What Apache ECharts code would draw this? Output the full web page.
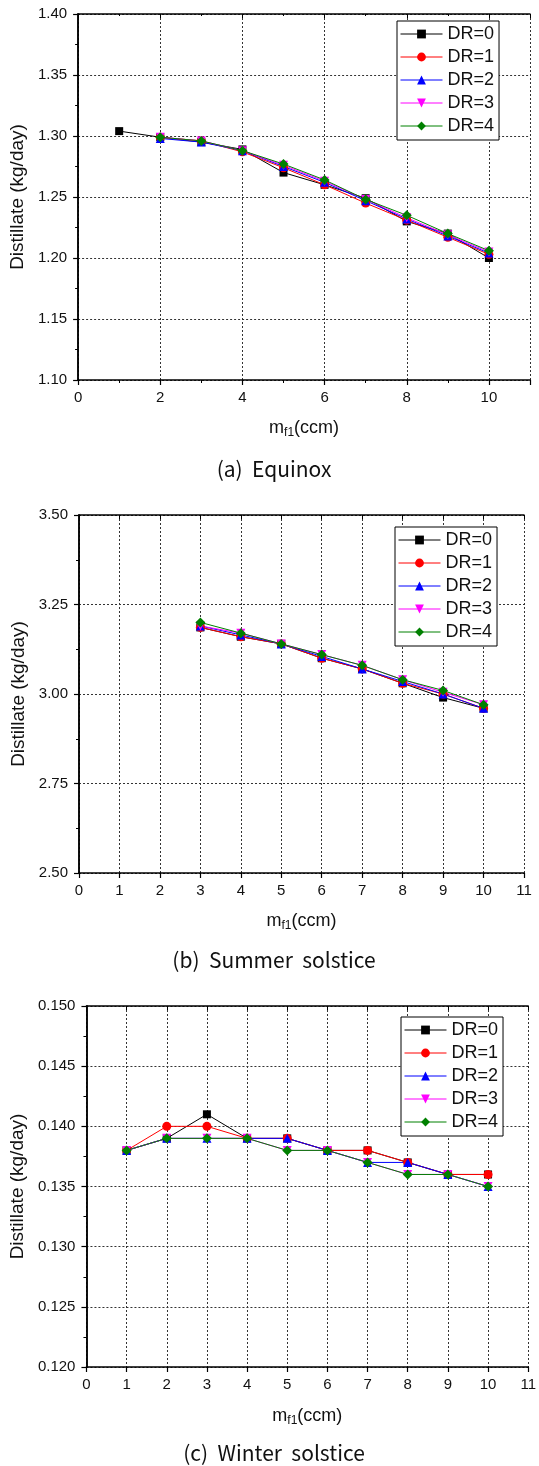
<!DOCTYPE html>
<html>
<head>
<meta charset="utf-8">
<script src="https://cdn.jsdelivr.net/npm/echarts@6/dist/echarts.min.js"></script>
<style>
  html, body { margin: 0; padding: 0; background: #fff; }
  #chart { width: 539px; height: 1466px; }
</style>
</head>
<body>
<div id="chart"></div>
<script>
// ---- data ----
var names = ['DR=0', 'DR=1', 'DR=2', 'DR=3', 'DR=4'];

// (a) Equinox
var eqX0 = [1, 2, 3, 4, 5, 6, 7, 8, 9, 10];
var eqX = [2, 3, 4, 5, 6, 7, 8, 9, 10];
var eqDR0 = [1.304, 1.299, 1.295, 1.289, 1.270, 1.260, 1.249, 1.230, 1.220, 1.200];
var eqDR1 = [1.299, 1.296, 1.287, 1.274, 1.260, 1.245, 1.231, 1.217, 1.203];
var eqDR2 = [1.298, 1.295, 1.288, 1.275, 1.262, 1.247, 1.232, 1.218, 1.204];
var eqDR3 = [1.299, 1.296, 1.288, 1.276, 1.263, 1.248, 1.233, 1.219, 1.205];
var eqDR4 = [1.299, 1.296, 1.288, 1.277, 1.264, 1.248, 1.235, 1.220, 1.206];

// (b) Summer solstice
var suX = [3, 4, 5, 6, 7, 8, 9, 10];
var suDR0 = [3.186, 3.160, 3.140, 3.100, 3.070, 3.030, 2.990, 2.960];
var suDR1 = [3.186, 3.160, 3.140, 3.100, 3.070, 3.030, 3.000, 2.960];
var suDR2 = [3.190, 3.165, 3.140, 3.105, 3.070, 3.035, 3.000, 2.960];
var suDR3 = [3.190, 3.170, 3.140, 3.110, 3.080, 3.040, 3.005, 2.970];
var suDR4 = [3.200, 3.170, 3.140, 3.110, 3.080, 3.040, 3.010, 2.970];

// (c) Winter solstice
var wiX = [1, 2, 3, 4, 5, 6, 7, 8, 9, 10];
var wiDR0 = [0.138, 0.139, 0.141, 0.139, 0.139, 0.138, 0.138, 0.137, 0.136, 0.136];
var wiDR1 = [0.138, 0.140, 0.140, 0.139, 0.139, 0.138, 0.138, 0.137, 0.136, 0.136];
var wiDR2 = [0.138, 0.139, 0.139, 0.139, 0.139, 0.138, 0.137, 0.137, 0.136, 0.135];
var wiDR3 = [0.138, 0.139, 0.139, 0.139, 0.138, 0.138, 0.137, 0.136, 0.136, 0.135];
var wiDR4 = [0.138, 0.139, 0.139, 0.139, 0.138, 0.138, 0.137, 0.136, 0.136, 0.135];

var captionTexts = ['(a)  Equinox', '(b)  Summer  solstice', '(c)  Winter  solstice'];

// ---- styles ----
var colors = ['#000000', '#ff0000', '#0000ff', '#ff00ff', '#008000'];
var symbols = ['rect', 'circle', 'triangle', 'triangle', 'diamond'];
var symRot = [0, 0, 0, 180, 0];
var symSize = [8, 9, 9, 9, 10];
var font = '"Liberation Sans", Arial, sans-serif';

var pairs = function (xs, ys) {
    var out = [];
    for (var i = 0; i < xs.length; i++) out.push([xs[i], ys[i]]);
    return out;
};

var grids = [
    { left: 75.5, top: 14, width: 454.5, height: 366 },
    { left: 79, top: 515, width: 445, height: 358 },
    { left: 81.5, top: 1006, width: 448.5, height: 361 }
];

var xCfg = [
    { min: 0, max: 11, interval: 2, minor: true, gap: 37 },
    { min: 0, max: 11, interval: 1, minor: false, gap: 37 },
    { min: 0, max: 11, interval: 1, minor: false, gap: 38 }
];
var yCfg = [
    { min: 1.10, max: 1.40, interval: 0.05, dec: 2, gap: 46 },
    { min: 2.50, max: 3.50, interval: 0.25, dec: 2, gap: 49 },
    { min: 0.120, max: 0.150, interval: 0.005, dec: 3, gap: 54 }
];

var axisLine = { show: true, lineStyle: { color: '#000', width: 1.5 } };
var gridLine = { show: true, lineStyle: { color: '#333', type: [2, 2], width: 1 } };

var xAxes = [], yAxes = [], series = [], legends = [], texts = [];

for (var g = 0; g < 3; g++) {
    var xc = xCfg[g], yc = yCfg[g];
    // bottom
    xAxes.push({
        type: 'value', gridIndex: g, position: 'bottom',
        min: xc.min, max: xc.max, interval: xc.interval,
        axisLine: axisLine,
        axisTick: { show: true, inside: false, length: 5, lineStyle: { color: '#000', width: 1.2 } },
        minorTick: { show: xc.minor, splitNumber: 2, length: 3, lineStyle: { color: '#000' } },
        axisLabel: {
            color: '#111', fontFamily: font, fontSize: 15, margin: 10,
            formatter: (function (mx, iv) {
                return function (v) { return (v === mx && iv === 2) ? '' : String(v); };
            })(xc.max, xc.interval)
        },
        splitLine: gridLine,
        name: '{m|m}{s|f1}{m|(ccm)}',
        nameLocation: 'middle', nameGap: xc.gap,
        nameTextStyle: {
            rich: {
                m: { fontFamily: font, fontSize: 18, color: '#111' },
                s: { fontFamily: font, fontSize: 12, color: '#111', padding: [10, 0, 0, 0] }
            }
        }
    });
    // top (border)
    xAxes.push({
        type: 'value', gridIndex: g, position: 'top',
        min: xc.min, max: xc.max, interval: xc.interval,
        axisLine: axisLine,
        axisTick: { show: true, inside: true, length: 4, lineStyle: { color: '#000' } },
        minorTick: { show: xc.minor, splitNumber: 2, length: 2, lineStyle: { color: '#000' } },
        axisLabel: { show: false }, splitLine: { show: false }
    });
    // left
    yAxes.push({
        type: 'value', gridIndex: g, position: 'left',
        min: yc.min, max: yc.max, interval: yc.interval,
        axisLine: axisLine,
        axisTick: { show: true, inside: false, length: 5, lineStyle: { color: '#000', width: 1.2 } },
        minorTick: { show: true, splitNumber: 2, length: 3, lineStyle: { color: '#000' } },
        axisLabel: {
            color: '#111', fontFamily: font, fontSize: 15, margin: 11,
            formatter: (function (d) { return function (v) { return v.toFixed(d); }; })(yc.dec)
        },
        splitLine: gridLine,
        name: 'Distillate (kg/day)',
        nameLocation: 'middle', nameRotate: 90,
        nameGap: yc.gap,
        nameTextStyle: { fontFamily: font, fontSize: 19, color: '#111' }
    });
    // right (border)
    yAxes.push({
        type: 'value', gridIndex: g, position: 'right',
        min: yc.min, max: yc.max, interval: yc.interval,
        axisLine: axisLine,
        axisTick: { show: true, inside: true, length: 4, lineStyle: { color: '#000' } },
        minorTick: { show: true, splitNumber: 2, length: 2, lineStyle: { color: '#000' } },
        axisLabel: { show: false }, splitLine: { show: false }
    });
}

var panelData = [
    [[eqX0, eqDR0], [eqX, eqDR1], [eqX, eqDR2], [eqX, eqDR3], [eqX, eqDR4]],
    [[suX, suDR0], [suX, suDR1], [suX, suDR2], [suX, suDR3], [suX, suDR4]],
    [[wiX, wiDR0], [wiX, wiDR1], [wiX, wiDR2], [wiX, wiDR3], [wiX, wiDR4]]
];

for (var p = 0; p < 3; p++) {
    for (var s = 0; s < 5; s++) {
        series.push({
            name: names[s],
            type: 'line',
            xAxisIndex: p * 2,
            yAxisIndex: p * 2,
            data: pairs(panelData[p][s][0], panelData[p][s][1]),
            symbol: symbols[s],
            symbolRotate: symRot[s],
            symbolSize: symSize[s],
            showAllSymbol: true,
            lineStyle: { color: colors[s], width: 1 },
            itemStyle: { color: colors[s] },
            animation: false
        });
    }
}

var legendPos = [
    { left: 397, top: 21 },
    { left: 395, top: 527 },
    { left: 401, top: 1017 }
];
for (var l = 0; l < 3; l++) {
    legends.push({
        orient: 'vertical',
        left: legendPos[l].left, top: legendPos[l].top,
        data: names,
        itemWidth: 42, itemHeight: 11, itemGap: 5,
        padding: [4, 5, 5, 3],
        borderColor: '#000', borderWidth: 1, borderRadius: 0,
        backgroundColor: '#fff',
        selectedMode: false,
        lineStyle: { width: 1 },
        textStyle: { fontFamily: font, fontSize: 18, color: '#111', lineHeight: 18 }
    });
}

var captionY = [469, 960, 1453];
for (var c = 0; c < 3; c++) {
    texts.push({
        type: 'text', x: 274, y: captionY[c],
        style: {
            text: captionTexts[c], align: 'center', verticalAlign: 'middle',
            fill: '#111', font: '21px "Noto Sans CJK KR", "Noto Sans", sans-serif'
        }
    });
}

var chart = echarts.init(document.getElementById('chart'));
chart.setOption({
    animation: false,
    backgroundColor: '#fff',
    grid: grids,
    xAxis: xAxes,
    yAxis: yAxes,
    legend: legends,
    graphic: texts,
    series: series
});
</script>
</body>
</html>
